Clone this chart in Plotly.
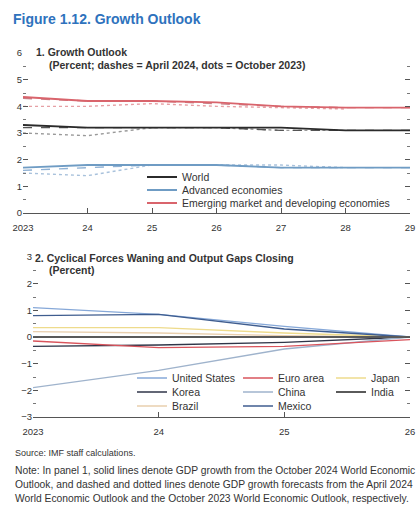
import plotly.graph_objects as go

W, H = 417, 510

# ---------------- Panel 1 data ----------------
years1 = [2023, 2024, 2025, 2026, 2027, 2028, 2029]
years1_oct23 = [2023, 2024, 2025, 2026, 2027, 2028]
year1_labels = ["2023", "24", "25", "26", "27", "28", "29"]

world_oct24 = [3.3, 3.2, 3.2, 3.2, 3.2, 3.1, 3.1]
world_apr24 = [3.2, 3.2, 3.2, 3.2, 3.1, 3.1, 3.1]
world_oct23 = [3.0, 2.9, 3.2, 3.2, 3.1, 3.1]

ae_oct24 = [1.7, 1.8, 1.8, 1.8, 1.7, 1.7, 1.7]
ae_apr24 = [1.6, 1.7, 1.8, 1.8, 1.7, 1.7, 1.7]
ae_oct23 = [1.5, 1.4, 1.8, 1.8, 1.8, 1.7]

emde_oct24 = [4.35, 4.2, 4.2, 4.15, 4.0, 3.95, 3.95]
emde_apr24 = [4.3, 4.2, 4.2, 4.1, 4.0, 3.95, 3.95]
emde_oct23 = [4.0, 4.0, 4.1, 4.0, 3.95, 3.9]

# ---------------- Panel 2 data ----------------
years2 = [2023, 2024, 2025, 2026]
year2_labels = ["2023", "24", "25", "26"]

us_gap = [1.1, 0.85, 0.4, 0.0]
euro_gap = [-0.15, -0.4, -0.35, -0.1]
japan_gap = [0.35, 0.35, 0.15, 0.0]
korea_gap = [-0.35, -0.3, -0.2, 0.0]
china_gap = [-1.9, -1.25, -0.45, 0.0]
india_gap = [0.0, 0.0, 0.0, 0.0]
brazil_gap = [0.2, 0.15, 0.05, 0.0]
mexico_gap = [0.8, 0.85, 0.3, 0.0]

FONT = "Liberation Sans, Arial, sans-serif"
C_WORLD = "#2b2b2b"
C_AE = "#6f9cc4"
C_EM = "#d9646c"

def xpix(p):
    return p / W

def ypix(p):
    return 1 - p / H

fig = go.Figure()
legends = {}

def make_legend(key, x_text, y_row, size):
    legends[key] = dict(x=xpix(x_text - 40), y=ypix(y_row), xanchor="left", yanchor="middle",
                        bgcolor="rgba(0,0,0,0)", borderwidth=0,
                        font=dict(family=FONT, size=size, color="#333"), itemwidth=30)

def add1(x, y, name, color, dash, leg=None, width=1.6):
    fig.add_trace(go.Scatter(x=x, y=y, mode="lines", name=name, showlegend=leg is not None,
                             line=dict(color=color, width=width, dash=dash),
                             xaxis="x", yaxis="y", legend=leg or "legend"))

# panel 1 legends (one entry each, so rows can sit close together)
make_legend("legend", 182, 177, 10.5)
make_legend("legend2", 182, 190, 10.5)
make_legend("legend3", 182, 203, 10.5)

# dotted (Oct 2023), dashed (Apr 2024), solid (Oct 2024)
add1(years1_oct23, world_oct23, "World (Oct 2023)", "#9a9a9a", "dot", None, 1.4)
add1(years1_oct23, ae_oct23, "AE (Oct 2023)", "#a9c2dc", "dot", None, 1.4)
add1(years1_oct23, emde_oct23, "EMDE (Oct 2023)", "#e6a0a5", "dot", None, 1.4)
add1(years1, world_apr24, "World (Apr 2024)", "#555555", "dash", None, 1.4)
add1(years1, ae_apr24, "AE (Apr 2024)", "#8fb1d4", "dash", None, 1.4)
add1(years1, emde_apr24, "EMDE (Apr 2024)", "#c98088", "dash", None, 1.4)
add1(years1, world_oct24, "World", C_WORLD, "solid", "legend", 1.8)
add1(years1, ae_oct24, "Advanced economies", C_AE, "solid", "legend2", 1.8)
add1(years1, emde_oct24, "Emerging market and developing economies", C_EM, "solid", "legend3", 1.8)

# panel 2 legends: three columns
make_legend("legend4", 172, 378, 10.5)   # United States
make_legend("legend5", 172, 392, 10.5)   # Korea
make_legend("legend6", 172, 406, 10.5)   # Brazil
make_legend("legend7", 278, 378, 10.5)   # Euro area
make_legend("legend8", 278, 392, 10.5)   # China
make_legend("legend9", 278, 406, 10.5)   # Mexico
make_legend("legend10", 371, 378, 10.5)  # Japan
make_legend("legend11", 371, 392, 10.5)  # India

def add2(y, name, color, leg, width=1.4):
    fig.add_trace(go.Scatter(x=years2, y=y, mode="lines", name=name,
                             line=dict(color=color, width=width),
                             xaxis="x2", yaxis="y2", legend=leg))

add2(brazil_gap, "Brazil", "#e9cfae", "legend6")
add2(japan_gap, "Japan", "#eedb8c", "legend10")
add2(us_gap, "United States", "#86a8d8", "legend4")
add2(mexico_gap, "Mexico", "#3f5d8f", "legend9")
add2(korea_gap, "Korea", "#2f3548", "legend5")
add2(china_gap, "China", "#9fb3cc", "legend8")
add2(euro_gap, "Euro area", "#d9545c", "legend7")
add2(india_gap, "India", "#5a5a5a", "legend11", 1.8)

axis_common = dict(showgrid=False, automargin=False,
                   tickfont=dict(family=FONT, size=9.5, color="#333"), tickcolor="#555")

fig.update_layout(
    template="none",
    width=W, height=H,
    margin=dict(l=0, r=0, t=0, b=0, autoexpand=False),
    paper_bgcolor="white", plot_bgcolor="white",
    font=dict(family=FONT, size=9, color="#333"),
    xaxis=dict(domain=[xpix(23), xpix(410)], range=[2023, 2029], anchor="y",
               tickvals=years1, ticktext=year1_labels, ticks="inside", ticklen=5,
               ticklabelstandoff=5,
               showline=True, linecolor="#555", linewidth=1.2, zeroline=False, **axis_common),
    yaxis=dict(domain=[ypix(213), ypix(53)], range=[0, 6], anchor="x",
               tickvals=[0, 1, 2, 3, 4, 5, 6], ticks="inside", ticklen=5, mirror="ticks",
               showline=False, zeroline=False,
               minor=dict(ticks="inside", dtick=0.5, ticklen=3, tickcolor="#777"),
               **axis_common),
    xaxis2=dict(domain=[xpix(33), xpix(410)], range=[2023, 2026], anchor="y2",
                tickvals=years2, ticktext=year2_labels, ticks="inside", ticklen=5,
                ticklabelstandoff=5,
                showline=True, linecolor="#555", linewidth=1.2, zeroline=False, **axis_common),
    yaxis2=dict(domain=[ypix(417), ypix(257)], range=[-3, 3], anchor="x2",
                tickvals=[-3, -2, -1, 0, 1, 2, 3], ticks="inside", ticklen=5, mirror="ticks",
                showline=False, zeroline=True, zerolinecolor="#444", zerolinewidth=1.5,
                minor=dict(ticks="inside", dtick=0.5, ticklen=3, tickcolor="#777"),
                **axis_common),
    **legends,
)

def note(text, x, y, size=9, color="#333", bold=False):
    fig.add_annotation(text=("<b>%s</b>" % text) if bold else text,
                       xref="paper", yref="paper", x=xpix(x), y=ypix(y),
                       xanchor="left", yanchor="middle", showarrow=False,
                       font=dict(family=FONT, size=size, color=color))

note("Figure 1.12. Growth Outlook", 11, 19, size=14, color="#2e72bd", bold=True)
note("1. Growth Outlook", 34, 52, size=10.5, bold=True)
note("(Percent; dashes = April 2024, dots = October 2023)", 47, 65, size=10.5, bold=True)
note("2. Cyclical Forces Waning and Output Gaps Closing", 33, 258, size=10.5, bold=True)
note("(Percent)", 47, 270, size=10.5, bold=True)
note("Source: IMF staff calculations.", 13, 453, size=9)
note("Note: In panel 1, solid lines denote GDP growth from the October 2024 World Economic", 13, 470, size=10.3)
note("Outlook, and dashed and dotted lines denote GDP growth forecasts from the April 2024", 13, 484, size=10.3)
note("World Economic Outlook and the October 2023 World Economic Outlook, respectively.", 13, 498, size=10.3)

fig.write_html("out.html", config={"displayModeBar": False},
               post_script="document.body.style.margin='0px';document.body.style.overflow='hidden';")
